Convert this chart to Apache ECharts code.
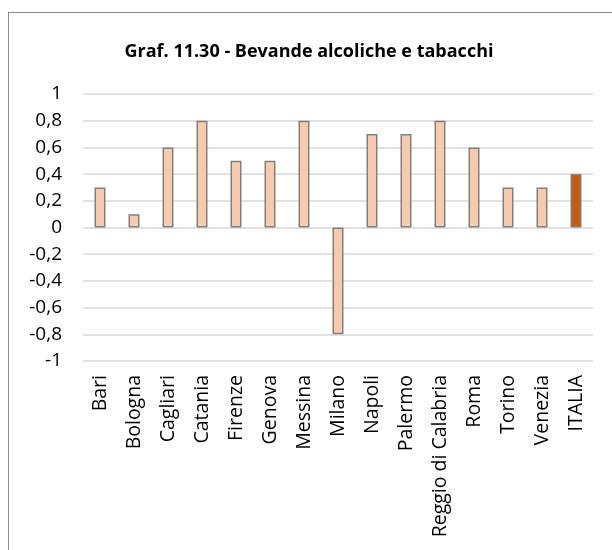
<!DOCTYPE html>
<html><head><meta charset="utf-8">
<script src="https://cdn.jsdelivr.net/npm/echarts@6/dist/echarts.min.js"></script>
<style>
html,body{margin:0;padding:0;background:#fff;overflow:hidden;}
#frame{position:absolute;left:8px;top:12px;width:620px;height:560px;border:1.5px solid #8c8c8c;box-sizing:border-box;}
#c{position:absolute;left:0;top:0;width:612px;height:550px;}
</style></head>
<body>
<div id="frame"></div>
<div id="c"></div>
<script>
const categories = ["Bari","Bologna","Cagliari","Catania","Firenze","Genova","Messina","Milano","Napoli","Palermo","Reggio di Calabria","Roma","Torino","Venezia","ITALIA"];
const values = [0.3,0.1,0.6,0.8,0.5,0.5,0.8,-0.8,0.7,0.7,0.8,0.6,0.3,0.3,0.4];
const highlight = "ITALIA";
const chart = echarts.init(document.getElementById('c'));
const font = "'Open Sans', sans-serif";
chart.setOption({
  animation:false,
  title:{text:"Graf. 11.30 - Bevande alcoliche e tabacchi",left:304,top:38,textAlign:'center',
    textStyle:{fontFamily:font,fontSize:18,fontWeight:'bold',color:'#000'}},
  grid:{left:83,right:19,top:94,bottom:189,outerBoundsMode:'none'},
  xAxis:{type:'category',data:categories,position:'bottom',
    axisLine:{show:false},axisTick:{show:false},
    axisLabel:{rotate:90,interval:0,margin:14,fontFamily:font,fontSize:19.5,color:'#000'}},
  yAxis:{type:'value',min:-1,max:1,interval:0.2,
    axisLine:{show:false},axisTick:{show:false},
    splitLine:{lineStyle:{color:'#d9d9d9',width:1.5}},
    axisLabel:{margin:21,fontFamily:font,fontSize:19,color:'#000',
      formatter:v=>{const r=Math.round(v*10)/10;return String(r).replace('.',',');}}},
  series:[{type:'bar',barWidth:11,
    data:values.map((v,i)=>({value:v,itemStyle:{color:categories[i]===highlight?'#C55A11':'#F8CBAD'}})),
    itemStyle:{borderColor:'#808080',borderWidth:1.5}}]
});
</script>
</body></html>
